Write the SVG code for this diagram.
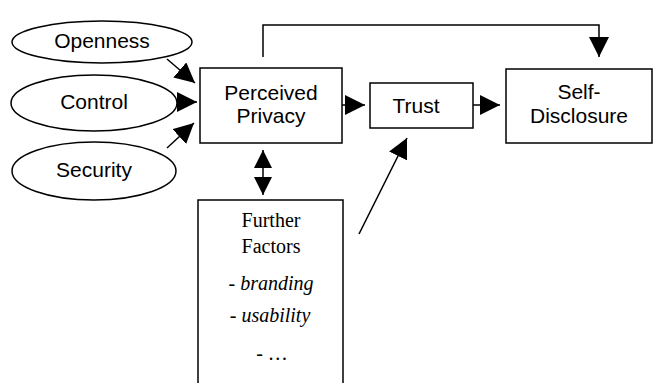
<svg xmlns="http://www.w3.org/2000/svg" width="653" height="383" viewBox="0 0 653 383">
<style>
.shape{fill:#fff;stroke:#000;stroke-width:1.5}
.ln{fill:none;stroke:#000;stroke-width:1.5}
.sans{font-family:"Liberation Sans",Arial,sans-serif;font-size:21px;fill:#000;text-anchor:middle}
.serif{font-family:"Liberation Serif","Times New Roman",serif;font-size:20px;fill:#000;text-anchor:middle}
.it{font-style:italic}
</style>
<defs>
<marker id="ah" viewBox="0 0 20 20" refX="20" refY="10" markerWidth="20" markerHeight="20" markerUnits="userSpaceOnUse" orient="auto">
<path d="M0,0 L20,10 L0,20 z" fill="#000"/>
</marker>
<marker id="ahs" viewBox="0 0 20 20" refX="20" refY="10" markerWidth="18" markerHeight="20" markerUnits="userSpaceOnUse" orient="auto-start-reverse">
<path d="M0,0 L20,10 L0,20 z" fill="#000"/>
</marker>
</defs>
<rect width="653" height="383" fill="#fff"/>
<g id="connectors">
<line class="ln" x1="167" y1="59" x2="195" y2="83" marker-end="url(#ah)"/>
<line class="ln" x1="177" y1="102" x2="197" y2="102" marker-end="url(#ah)"/>
<line class="ln" x1="167" y1="148" x2="194" y2="123" marker-end="url(#ah)"/>
<line class="ln" x1="342" y1="105" x2="365" y2="105" marker-end="url(#ah)"/>
<line class="ln" x1="473" y1="105" x2="500" y2="105" marker-end="url(#ah)"/>
<path class="ln" d="M263,57 V25 H599 V57" marker-end="url(#ah)"/>
<line class="ln" x1="263" y1="150" x2="263" y2="195" marker-start="url(#ahs)" marker-end="url(#ahs)"/>
<line class="ln" x1="359" y1="234" x2="407" y2="138" marker-end="url(#ah)"/>
</g>
<g id="openness">
<ellipse class="shape" cx="102" cy="42" rx="90" ry="21"/>
<text class="sans" x="102" y="48">Openness</text>
</g>
<g id="control">
<ellipse class="shape" cx="94" cy="103" rx="83" ry="28"/>
<text class="sans" x="94" y="109">Control</text>
</g>
<g id="security">
<ellipse class="shape" cx="94" cy="171" rx="82" ry="29"/>
<text class="sans" x="94" y="177">Security</text>
</g>
<g id="perceived-privacy">
<rect class="shape" x="200" y="68" width="142" height="75"/>
<text class="sans" x="271" y="100">Perceived</text>
<text class="sans" x="271" y="123">Privacy</text>
</g>
<g id="trust">
<rect class="shape" x="370" y="83" width="103" height="45"/>
<text class="sans" x="416" y="113">Trust</text>
</g>
<g id="self-disclosure">
<rect class="shape" x="506" y="69" width="146" height="74"/>
<text class="sans" x="579" y="99">Self-</text>
<text class="sans" x="579" y="123">Disclosure</text>
</g>
<g id="further-factors">
<rect class="shape" x="198" y="200" width="145" height="195"/>
<text class="serif" x="271" y="227">Further</text>
<text class="serif" x="271" y="253">Factors</text>
<text class="serif" x="271" y="290">- <tspan class="it">branding</tspan></text>
<text class="serif" x="270" y="322">- <tspan class="it">usability</tspan></text>
<text class="serif" x="272" y="360">- …</text>
</g>
</svg>
